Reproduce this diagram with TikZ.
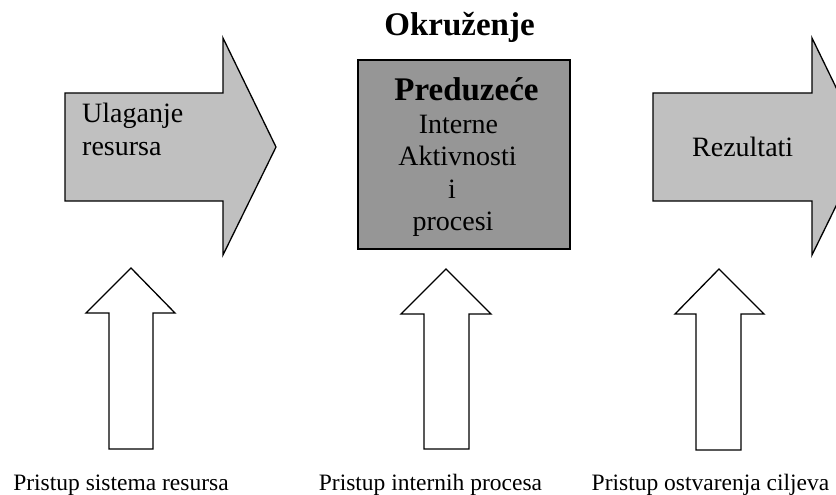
\documentclass[tikz,border=0pt]{standalone}
\usepackage{fontspec}
\setmainfont{Liberation Serif}
\tikzset{
  bigarrow/.style={line width=1.3pt, line join=miter},
  uparrow/.style={line width=1.3pt, fill=white},
  label/.style={inner sep=0pt, anchor=base}
}
\begin{document}
\begin{tikzpicture}[x=1pt, y=-1pt]
                \useasboundingbox (0,0) rectangle (836,495);
                \clip (0,0) rectangle (836,495);

                % Changing color 192 192 192
                \definecolor{r192g192b192}{rgb}{0.752941,0.752941,0.752941}%
                % Changing color 150 150 150
                \definecolor{r150g150b150}{rgb}{0.588235,0.588235,0.588235}%

                % Filling arrow: Ulaganje resursa
                \filldraw [bigarrow, fill=r192g192b192] (65,93) -- (223,93) -- (223,38) -- (276,147) -- (223,255) -- (223,201) -- (65,201) -- cycle;%
                \node [label, anchor=base west] (ulaganje) at (82,122.7) {\fontsize{28}{32}\selectfont Ulaganje};%
                \node [label, anchor=base west] (resursa) at (82,155) {\fontsize{28}{32}\selectfont resursa};%

                % Filling rectangle: Preduzece
                \filldraw [line width=1.3pt, fill=r150g150b150] (358,60) rectangle (570,249);%
                \node [label] (preduzece) at (466.5,100) {\fontsize{33}{40}\selectfont\bfseries Preduzeće};%
                \node [label] (interne) at (458.5,133) {\fontsize{28}{32}\selectfont Interne};%
                \node [label] (aktivnosti) at (457.5,165.5) {\fontsize{28}{32}\selectfont Aktivnosti};%
                \node [label] (veznik) at (452,198) {\fontsize{28}{32}\selectfont i};%
                \node [label] (procesi) at (453,230.5) {\fontsize{28}{32}\selectfont procesi};%

                % Filling arrow: Rezultati
                \filldraw [bigarrow, fill=r192g192b192] (653,93) -- (812,93) -- (812,38) -- (865,147) -- (812,255) -- (812,201) -- (653,201) -- cycle;%
                \node [label] (rezultati) at (742.7,157) {\fontsize{28}{32}\selectfont Rezultati};%

                % Marking title
                \node [label] (okruzenje) at (459.5,36) {\fontsize{33}{40}\selectfont\bfseries Okruženje};%

                % Drawing up arrow I
                \draw [uparrow] (109,449) -- (109,313) -- (86,313) -- (131,268) -- (175,313) -- (153,313) -- (153,449) -- cycle;%

                % Drawing up arrow II
                \draw [uparrow] (424,449) -- (424,314) -- (401,314) -- (446,269) -- (491,314) -- (469,314) -- (469,449) -- cycle;%

                % Drawing up arrow III
                \draw [uparrow] (696,450) -- (696,314) -- (675,314) -- (719,269) -- (764,314) -- (741,314) -- (741,450) -- cycle;%

                % Marking point I
                \node [label] (pristupsistema) at (121,490) {\fontsize{23.5}{28}\selectfont Pristup sistema resursa};%

                % Marking point II
                \node [label] (pristupinternih) at (430.5,490) {\fontsize{23.5}{28}\selectfont Pristup internih procesa};%

                % Marking point III
                \node [label] (pristupostvarenja) at (710.5,490) {\fontsize{23.5}{28}\selectfont Pristup ostvarenja ciljeva};%
\end{tikzpicture}
\end{document}
